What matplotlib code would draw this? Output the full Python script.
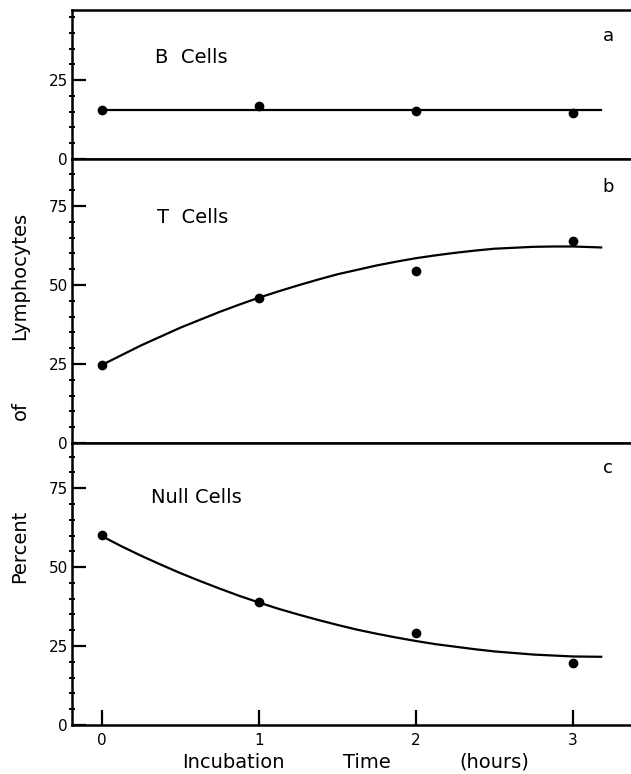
import matplotlib
matplotlib.use("Agg")
import matplotlib.pyplot as plt
from matplotlib.ticker import MultipleLocator, FixedLocator

# measured points (percent of lymphocytes) at incubation hours
hours = [0, 1, 2, 3]
b_pts = [15.5, 16.8, 15.3, 14.5]
t_pts = [24.7, 45.9, 54.4, 63.9]
null_pts = [60.3, 39.0, 29.2, 19.5]

# hand-drawn curves
b_curve_x = [0, 3.18]
b_curve = [15.5, 15.5]
curve_x = [0, 0.125, 0.25, 0.375, 0.5, 0.625, 0.75, 0.875, 1.0, 1.125, 1.25, 1.375,
           1.5, 1.625, 1.75, 1.875, 2.0, 2.125, 2.25, 2.375, 2.5, 2.625, 2.75, 2.875,
           3.0, 3.18]
t_curve = [24.7, 27.8, 30.9, 33.7, 36.5, 39.0, 41.5, 43.8, 46.0, 48.0, 49.9, 51.7,
           53.4, 54.8, 56.2, 57.4, 58.5, 59.4, 60.2, 60.9, 61.5, 61.8, 62.1, 62.2,
           62.2, 61.9]
null_curve = [59.8, 56.6, 53.6, 50.8, 48.1, 45.6, 43.2, 40.9, 38.8, 36.8, 35.0, 33.3,
              31.7, 30.2, 28.9, 27.7, 26.6, 25.6, 24.8, 24.0, 23.3, 22.8, 22.3, 22.0,
              21.7, 21.6]

panels = [
    ("B  Cells", "a", b_pts, b_curve_x, b_curve, 47.2, [0, 25], (0.34, 32), 39),
    ("T  Cells", "b", t_pts, curve_x, t_curve, 89.9, [0, 25, 50, 75], (0.35, 71.5), 81),
    ("Null Cells", "c", null_pts, curve_x, null_curve, 89.3, [0, 25, 50, 75], (0.31, 72), 81.5),
]

W, H = 631, 774
fig = plt.figure(figsize=(W / 100, H / 100), dpi=100)
fig.patch.set_facecolor("white")

# (top, bottom) of each panel in pixels
rows = [(10, 159), (159, 443), (443, 725)]
left = 72 / W

for i, ((name, letter, pts, cx, curve, ytop, majors, tpos, lety), (t, b)) in enumerate(zip(panels, rows)):
    ax = fig.add_axes([left, 1 - b / H, 1 - left, (b - t) / H])
    ax.set_xlim(-0.19, 3.37)
    ax.set_ylim(0, ytop)
    ax.plot(cx, curve, color="black", lw=1.6, solid_joinstyle="round")
    ax.plot(hours, pts, "o", color="black", ms=6)
    for s in ["top", "left", "bottom"]:
        ax.spines[s].set_linewidth(1.8)
    ax.spines["right"].set_visible(False)

    ax.yaxis.set_major_locator(FixedLocator(majors))
    ax.set_yticklabels([str(v) for v in majors])
    ax.yaxis.set_minor_locator(MultipleLocator(5))
    ax.tick_params(axis="y", which="major", direction="in", length=10, width=1.6,
                   labelsize=11, pad=3)
    ax.tick_params(axis="y", which="minor", direction="inout", length=5, width=1.4)

    if i == 2:
        ax.set_xticks(hours)
        ax.tick_params(axis="x", which="major", direction="in", length=11, width=1.6,
                       labelsize=11, pad=6)
    else:
        ax.set_xticks([])

    ax.text(tpos[0], tpos[1], name, fontsize=14, ha="left", va="center")
    ax.text(3.225, lety, letter, fontsize=13, ha="center", va="center")

# y label words
for word, yc in [("Percent", 546), ("of", 410), ("Lymphocytes", 276)]:
    fig.text(20 / W, 1 - yc / H, word, rotation=90, fontsize=14, ha="center", va="center")

# x label words
for word, xc in [("Incubation", 233), ("Time", 367), ("(hours)", 494)]:
    fig.text(xc / W, 1 - 762 / H, word, fontsize=14, ha="center", va="center")

fig.savefig("out.png", dpi=100, facecolor="white")
